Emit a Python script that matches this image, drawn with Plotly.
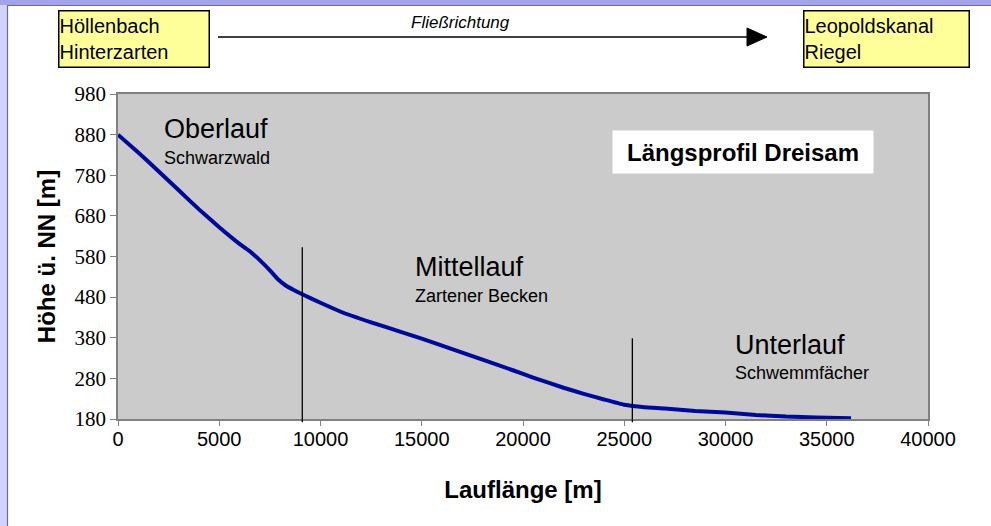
import plotly.graph_objects as go

# ---- data ----
lauflaenge = [0, 1000, 2000, 3000, 4000, 5000, 6000, 6600, 7000, 7500, 7900, 8300, 8700, 9100,
              10000, 11000, 12500, 14000, 15000, 16500, 18000, 19500, 20500, 22000,
              23000, 24000, 25000, 26000, 27000, 28500, 30000, 31500, 33000, 34500, 36200]
hoehe = [880, 836, 790, 743, 696, 652, 611, 589, 571, 546, 524, 508, 497, 487,
         466, 444, 418, 394, 378, 352, 326, 300, 282, 257,
         242, 228, 215, 209, 206, 200, 196, 190, 186, 184, 182]
grenzen_x = [9100, 25400]          # section boundaries
grenzen_top = [603, 379]           # top of boundary lines (m)
x_ticks = [0, 5000, 10000, 15000, 20000, 25000, 30000, 35000, 40000]
y_ticks = [180, 280, 380, 480, 580, 680, 780, 880, 980]
abschnitte = ["Oberlauf", "Mittellauf", "Unterlauf"]
regionen = ["Schwarzwald", "Zartener Becken", "Schwemmfächer"]

W, H = 991, 526
L, R, T, B = 118, 928, 94, 419
XMIN, XMAX, YMIN, YMAX = 0, 40000, 180, 980

def px(xp):
    return (xp - L) / (R - L)

def py(yp):
    return (B - yp) / (B - T)

fig = go.Figure()
fig.add_trace(go.Scatter(x=lauflaenge, y=hoehe, mode="lines",
                         line=dict(color="#000a99", width=4, shape="spline", smoothing=0.4),
                         hoverinfo="x+y", showlegend=False))

shapes = []
# boundary lines
for gx, gt in zip(grenzen_x, grenzen_top):
    shapes.append(dict(type="line", xref="x", yref="paper", x0=gx, x1=gx,
                       y0=(172 - YMIN) / (YMAX - YMIN), y1=(gt - YMIN) / (YMAX - YMIN),
                       line=dict(color="black", width=1.3)))
# frame decoration
shapes.append(dict(type="rect", xref="paper", yref="paper", x0=px(0), x1=px(W), y0=py(5), y1=py(0),
                   fillcolor="#a3a3ec", line=dict(width=0), layer="above"))
shapes.append(dict(type="line", xref="paper", yref="paper", x0=px(7), x1=px(W), y0=py(5.5), y1=py(5.5),
                   line=dict(color="#6a6a9a", width=1.2)))
shapes.append(dict(type="rect", xref="paper", yref="paper", x0=px(0), x1=px(7), y0=py(H), y1=py(5),
                   fillcolor="#d2d2ff", line=dict(width=0), layer="above"))
shapes.append(dict(type="line", xref="paper", yref="paper", x0=px(7.5), x1=px(7.5), y0=py(H), y1=py(5),
                   line=dict(color="#6a6a9a", width=1.2)))
# flow arrow
shapes.append(dict(type="line", xref="paper", yref="paper", x0=px(218), x1=px(750), y0=py(37), y1=py(37),
                   line=dict(color="black", width=1.5)))
shapes.append(dict(type="path", xref="paper", yref="paper",
                   path=f"M {px(747)} {py(28)} L {px(767)} {py(37)} L {px(747)} {py(46)} Z",
                   fillcolor="black", line=dict(color="black", width=1)))

ann = []
font_sans = "Liberation Sans, Arial, sans-serif"
# source / mouth boxes
ann.append(dict(xref="paper", yref="paper", x=px(58), y=py(10), xanchor="left", yanchor="top",
                text="Höllenbach<br>Hinterzarten", showarrow=False, align="left",
                width=149, height=55, bgcolor="#ffff99", bordercolor="black", borderwidth=1.5,
                borderpad=0, font=dict(family=font_sans, size=20, color="black"), valign="middle"))
ann.append(dict(xref="paper", yref="paper", x=px(803), y=py(10), xanchor="left", yanchor="top",
                text="Leopoldskanal<br>Riegel", showarrow=False, align="left",
                width=164, height=55, bgcolor="#ffff99", bordercolor="black", borderwidth=1.5,
                borderpad=0, font=dict(family=font_sans, size=20, color="black"), valign="middle"))
ann.append(dict(xref="paper", yref="paper", x=px(460), y=py(22), xanchor="center", yanchor="middle",
                text="<i>Fließrichtung</i>", showarrow=False,
                font=dict(family=font_sans, size=17, color="black")))
# title box
ann.append(dict(xref="paper", yref="paper", x=px(743), y=py(152), xanchor="center", yanchor="middle",
                text="<b>Längsprofil Dreisam</b>", showarrow=False, width=260, height=42,
                bgcolor="white", borderpad=0,
                font=dict(family=font_sans, size=24, color="black")))
# section labels (pixel positions of label blocks)
label_left = [163, 414, 734]
label_main_mid = [128, 266, 344]
label_sub_mid = [157, 295, 372]
for a, r, lx, m1, m2 in zip(abschnitte, regionen, label_left, label_main_mid, label_sub_mid):
    ann.append(dict(xref="paper", yref="paper", x=px(lx - 1), y=py(m1 + 1), xanchor="left", yanchor="middle",
                    text=a, showarrow=False,
                    font=dict(family=font_sans, size=27, color="black")))
    ann.append(dict(xref="paper", yref="paper", x=px(lx - 1), y=py(m2 + 1), xanchor="left", yanchor="middle",
                    text=r, showarrow=False,
                    font=dict(family=font_sans, size=18, color="black")))

fig.update_layout(
    width=W, height=H,
    margin=dict(l=L, r=W - R, t=T, b=H - B, pad=0),
    paper_bgcolor="white", plot_bgcolor="#cbcbcb",
    shapes=shapes, annotations=ann,
    xaxis=dict(range=[XMIN, XMAX], tickvals=x_ticks, ticktext=[str(v) for v in x_ticks],
               showgrid=False, zeroline=False, showline=True, linecolor="#808080", linewidth=1.5,
               mirror=True, ticks="outside", ticklen=5, tickcolor="#808080", ticklabelstandoff=-4,
               tickfont=dict(family=font_sans, size=20, color="black"),
               title=dict(text="<b>Lauflänge [m]</b>", font=dict(family=font_sans, size=24, color="black"),
                          standoff=32)),
    yaxis=dict(range=[YMIN, YMAX], tickvals=y_ticks, ticktext=[str(v) for v in y_ticks],
               showgrid=False, zeroline=False, showline=True, linecolor="#808080", linewidth=1.5,
               mirror=True, ticks="outside", ticklen=6, tickcolor="#808080",
               tickfont=dict(family="Liberation Serif, Times New Roman, serif", size=21, color="black"),
               title=dict(text="<b>Höhe ü. NN [m]</b>", font=dict(family=font_sans, size=24, color="black"),
                          standoff=12)),
)

fig.write_html("out.html", config={"displayModeBar": False},
               post_script="document.body.style.margin='0';document.body.style.overflow='hidden';")
